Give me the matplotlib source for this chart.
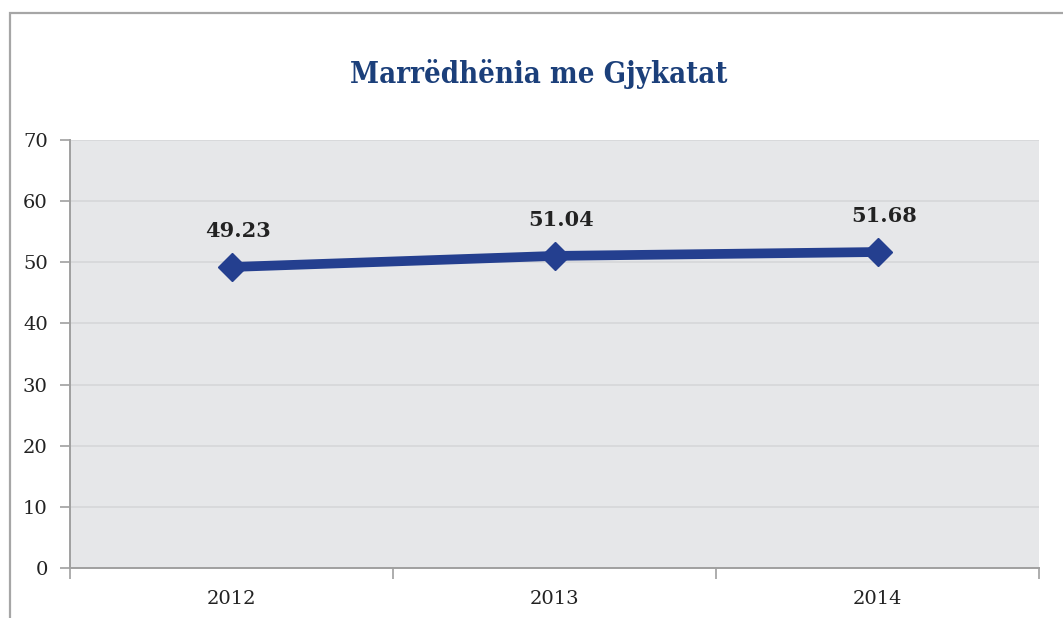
import matplotlib
matplotlib.use("Agg")
import matplotlib.pyplot as plt
from matplotlib.patches import Rectangle
from matplotlib.ticker import FixedLocator

years = ["2012", "2013", "2014"]
scores = [49.23, 51.04, 51.68]
value_labels = ["49.23", "51.04", "51.68"]
y_ticks = [0, 10, 20, 30, 40, 50, 60, 70]

title = "Marrëdhënia me Gjykatat"
line_color = "#243F8F"
title_color = "#1B3F7A"
bg_color = "#E6E7E9"
grid_color = "#D6D7D9"
axis_color = "#A0A0A0"
serif = ["DejaVu Serif"]

fig = plt.figure(figsize=(10.63, 6.18), dpi=100)
W, H = 1063, 618

# outer chart frame (runs off the right and bottom edges)
fig.patches.append(Rectangle((10 / W, -0.05), 1.1, 1 - 13 / H + 0.05,
                             transform=fig.transFigure, fill=False,
                             edgecolor="#A6A6A6", linewidth=1.6))

ax = fig.add_axes([70 / W, (H - 568) / H, (1039 - 70) / W, (568 - 140) / H])
ax.set_facecolor(bg_color)

x = list(range(len(years)))
ax.plot(x, scores, color=line_color, linewidth=7, marker="D",
        markersize=14, markerfacecolor=line_color, markeredgecolor=line_color,
        zorder=3, solid_capstyle="butt")

for xi, v, lab in zip(x, scores, value_labels):
    ax.annotate(lab, (xi, v), xytext=(5, 26), textcoords="offset points",
                ha="center", va="center", fontsize=15, fontweight="bold",
                color="#222222", family=serif)

ax.set_xlim(-0.5, len(years) - 0.5)
ax.set_ylim(0, 70)
ax.set_yticks(y_ticks)
ax.set_yticklabels([str(t) for t in y_ticks], family=serif, fontsize=14,
                   color="#222222")
ax.yaxis.grid(True, color=grid_color, linewidth=1.2)
ax.set_axisbelow(True)

# category boundaries as major ticks, labels centred on minor ticks
ax.xaxis.set_major_locator(FixedLocator([i - 0.5 for i in range(len(years) + 1)]))
ax.xaxis.set_major_formatter(plt.NullFormatter())
ax.xaxis.set_minor_locator(FixedLocator(x))
ax.set_xticklabels(years, minor=True, family=serif, fontsize=14, color="#222222")
ax.tick_params(axis="x", which="major", direction="out", length=8,
               color=axis_color, width=1.2)
ax.tick_params(axis="x", which="minor", length=0, pad=16)
ax.tick_params(axis="y", direction="out", length=7, color=axis_color,
               width=1.2, pad=9)

for side in ("top", "right"):
    ax.spines[side].set_visible(False)
for side in ("left", "bottom"):
    ax.spines[side].set_color(axis_color)
    ax.spines[side].set_linewidth(1.4)

fig.text((353 + 725) / 2 / W, 1 - 74 / H, title, ha="center", va="center",
         fontsize=21, fontweight="bold", fontstretch="condensed",
         color=title_color, family=serif)

fig.savefig("out.png", dpi=100)
